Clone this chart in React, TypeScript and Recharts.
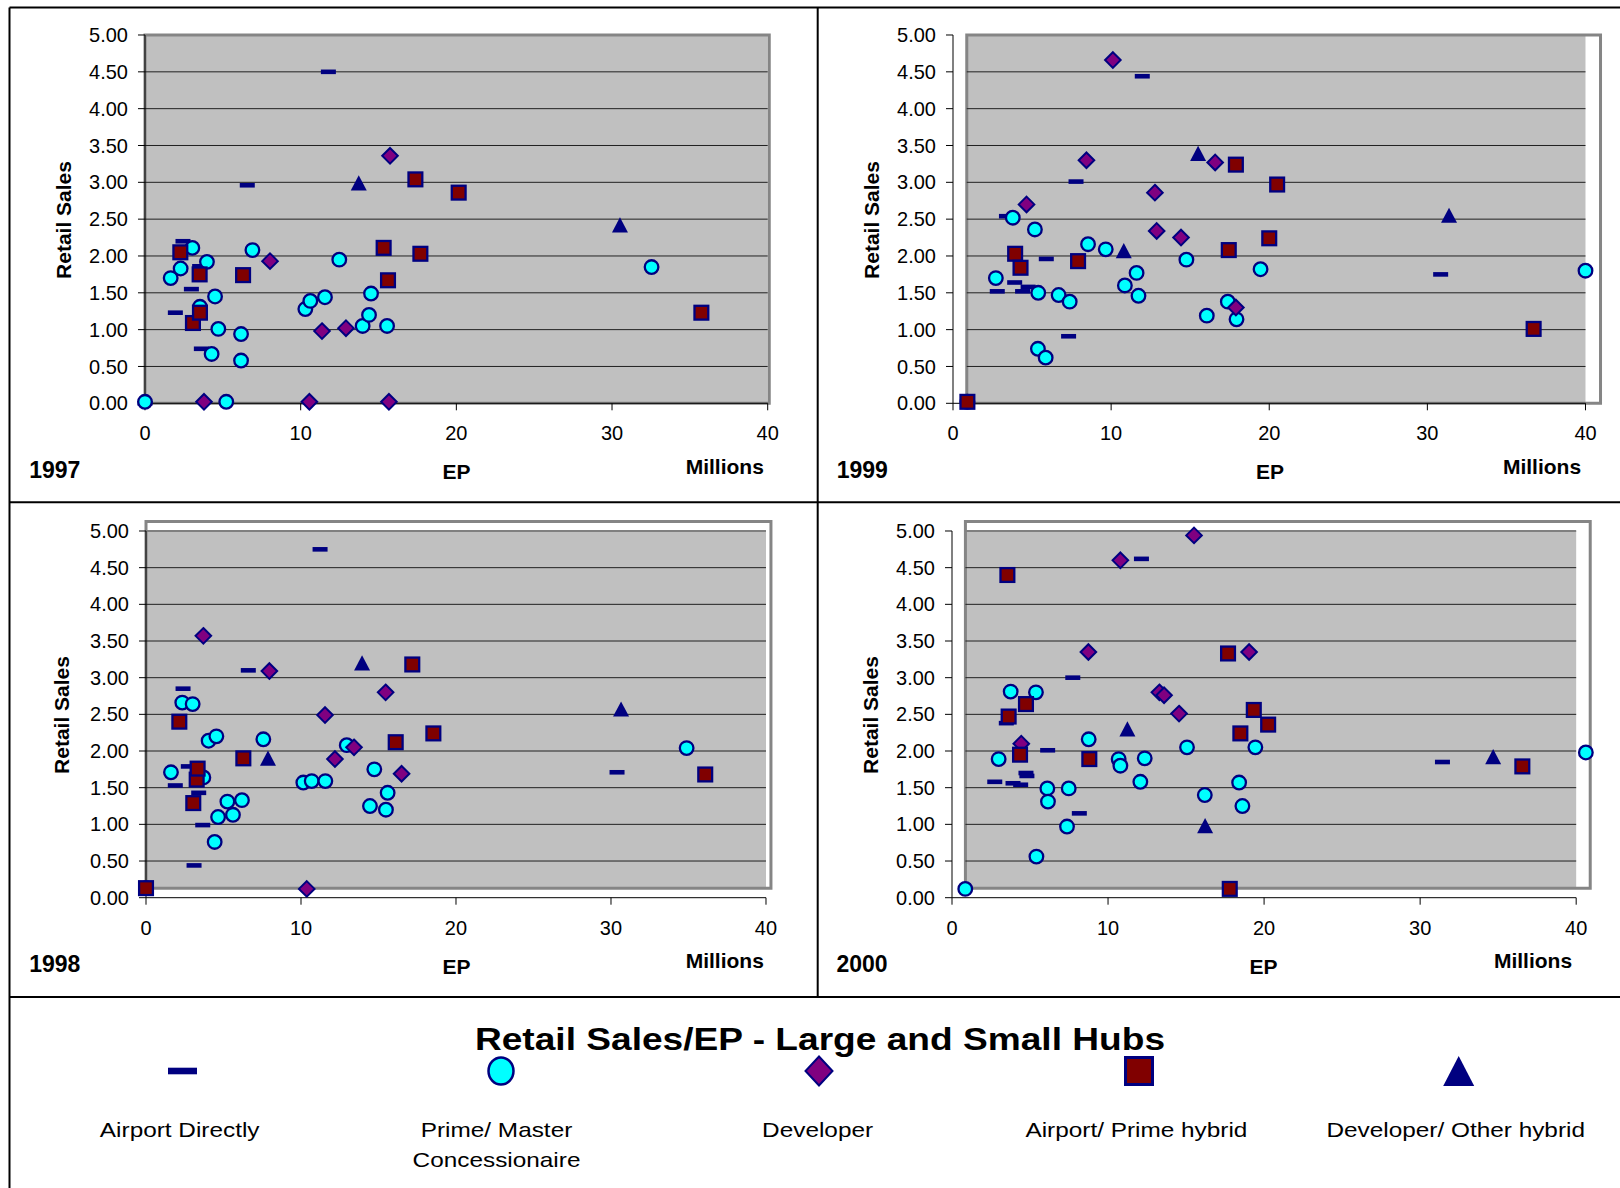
import React from 'react'
import { ScatterChart, Scatter, XAxis, YAxis, ReferenceArea, ReferenceLine } from 'recharts'

const FONT = '"Liberation Sans", Arial, Helvetica, sans-serif'
const NAVY = '#000080'

const seriesNames = ['Airport Directly', 'Prime/ Master Concessionaire', 'Developer', 'Airport/ Prime hybrid', 'Developer/ Other hybrid']
const xTicks = [0, 10, 20, 30, 40]
const yTicks = [0, 0.5, 1, 1.5, 2, 2.5, 3, 3.5, 4, 4.5, 5]
const gridValues = [0.5, 1, 1.5, 2, 2.5, 3, 3.5, 4, 4.5]
const X_MAX = 41.5

// 1997  [EP millions, retail sales]
const airport1997 = [[0, 0], [1.95, 1.23], [2.44, 2.2], [2.98, 1.55], [3.51, 1.86], [3.62, 0.74], [6.57, 2.96], [11.78, 4.5]]
const prime1997 = [[0, 0.02], [1.65, 1.7], [2.29, 1.83], [3.04, 2.11], [3.53, 1.31], [3.98, 1.92], [4.28, 0.67], [4.5, 1.45], [4.71, 1.01], [5.22, 0.02], [6.17, 0.94], [6.17, 0.58], [6.9, 2.08], [10.3, 1.28], [10.62, 1.39], [11.56, 1.44], [12.48, 1.95], [13.98, 1.05], [14.39, 1.2], [14.52, 1.49], [15.55, 1.05], [32.54, 1.85]]
const developer1997 = [[3.79, 0.02], [8.03, 1.93], [10.56, 0.02], [11.37, 0.98], [12.91, 1.02], [15.67, 0.02], [15.74, 3.36]]
const hybrid1997 = [[2.27, 2.05], [3.08, 1.09], [3.51, 1.75], [3.53, 1.23], [6.3, 1.74], [15.33, 2.11], [15.61, 1.67], [17.37, 3.04], [17.69, 2.03], [20.15, 2.86], [35.74, 1.23]]
const other1997 = [[13.73, 2.99], [30.51, 2.42]]

// 1999
const airport1999 = [[2.8, 1.52], [3.38, 2.54], [3.9, 1.64], [4.4, 1.52], [4.75, 1.58], [5.9, 1.96], [7.31, 0.91], [7.78, 3.01], [11.97, 4.44], [30.84, 1.75]]
const prime1999 = [[0.91, 0.02], [2.71, 1.7], [3.78, 2.52], [5.18, 2.36], [5.39, 1.5], [5.37, 0.74], [5.86, 0.62], [6.68, 1.47], [7.38, 1.38], [8.54, 2.16], [9.66, 2.09], [10.87, 1.6], [11.61, 1.77], [11.73, 1.46], [14.76, 1.95], [16.05, 1.19], [17.38, 1.38], [17.93, 1.14], [19.45, 1.82], [40.0, 1.8]]
const developer1999 = [[4.65, 2.7], [8.44, 3.3], [10.11, 4.66], [12.77, 2.86], [12.88, 2.34], [14.42, 2.25], [16.58, 3.27], [17.89, 1.3]]
const hybrid1999 = [[0.91, 0.02], [3.93, 2.03], [4.27, 1.84], [7.91, 1.93], [17.44, 2.08], [17.89, 3.24], [20.0, 2.24], [20.5, 2.97], [36.72, 1.01]]
const other1999 = [[10.8, 2.07], [15.5, 3.39], [31.37, 2.55]]

// 1998
const airport1998 = [[0, 0.13], [1.89, 1.53], [2.39, 2.85], [2.73, 1.79], [3.1, 0.44], [3.4, 1.43], [3.66, 0.99], [6.6, 3.1], [11.23, 4.75], [30.39, 1.71]]
const prime1998 = [[0, 0.13], [1.61, 1.71], [2.34, 2.66], [3.01, 2.64], [3.7, 1.64], [4.04, 2.14], [4.43, 0.76], [4.54, 2.2], [4.65, 1.1], [5.25, 1.31], [5.61, 1.13], [6.19, 1.33], [7.57, 2.16], [10.15, 1.57], [10.69, 1.59], [11.57, 1.59], [12.95, 2.08], [14.45, 1.25], [14.73, 1.75], [15.48, 1.2], [15.59, 1.43], [34.88, 2.04]]
const developer1998 = [[3.7, 3.57], [7.96, 3.09], [10.37, 0.12], [11.55, 2.49], [12.19, 1.89], [13.42, 2.05], [15.46, 2.8], [16.49, 1.69]]
const hybrid1998 = [[0, 0.13], [2.15, 2.4], [3.05, 1.29], [3.27, 1.61], [3.33, 1.76], [6.28, 1.9], [16.11, 2.12], [17.18, 3.18], [18.54, 2.24], [36.08, 1.68]]
const other1998 = [[7.87, 1.9], [13.94, 3.2], [30.65, 2.57]]

// 2000
const airport2000 = [[2.74, 1.58], [3.48, 2.38], [3.91, 1.56], [4.4, 1.54], [4.74, 1.7], [4.8, 1.66], [6.13, 2.01], [7.74, 3.0], [8.16, 1.15], [12.14, 4.62], [31.43, 1.85]]
const prime2000 = [[0.85, 0.12], [2.99, 1.89], [3.76, 2.81], [5.38, 2.8], [5.41, 0.56], [6.11, 1.49], [6.15, 1.31], [7.37, 0.97], [7.48, 1.49], [8.76, 2.16], [10.68, 1.89], [10.79, 1.8], [12.07, 1.58], [12.35, 1.9], [15.06, 2.05], [16.2, 1.4], [18.4, 1.57], [18.61, 1.25], [19.44, 2.05], [40.62, 1.98]]
const developer2000 = [[4.44, 2.1], [8.74, 3.35], [10.79, 4.6], [13.29, 2.8], [13.59, 2.76], [14.55, 2.51], [15.51, 4.94], [19.04, 3.35]]
const hybrid2000 = [[3.55, 4.4], [3.63, 2.47], [4.36, 1.95], [4.74, 2.64], [8.8, 1.89], [17.69, 3.33], [17.8, 0.12], [18.48, 2.24], [19.34, 2.56], [20.26, 2.36], [36.55, 1.79]]
const other2000 = [[11.24, 2.3], [16.22, 0.98], [34.68, 1.92]]

const toPts = (a: number[][]) => a.map(([x, y]) => ({ x, y }))

// markers
const DashMark = ({ cx, cy }: any) => <rect x={cx - 7.5} y={cy - 2.3} width={15} height={4.6} fill={NAVY} />
const CircleMark = ({ cx, cy }: any) => <circle cx={cx} cy={cy} r={6.8} fill="#00ffff" stroke={NAVY} strokeWidth={2.3} />
const DiamondMark = ({ cx, cy }: any) => (
  <polygon points={`${cx},${cy - 7.8} ${cx + 7.8},${cy} ${cx},${cy + 7.8} ${cx - 7.8},${cy}`} fill="#800080" stroke={NAVY} strokeWidth={2} />
)
const SquareMark = ({ cx, cy }: any) => <rect x={cx - 6.9} y={cy - 6.9} width={13.8} height={13.8} fill="#800000" stroke={NAVY} strokeWidth={2.3} />
const TriangleMark = ({ cx, cy }: any) => (
  <polygon points={`${cx},${cy - 7.8} ${cx + 8},${cy + 7.4} ${cx - 8},${cy + 7.4}`} fill={NAVY} />
)
const marks = [DashMark, CircleMark, DiamondMark, SquareMark, TriangleMark]

const panels = [
  {
    year: '1997', data: [airport1997, prime1997, developer1997, hybrid1997, other1997],
    x0: 145.3, x40: 768, yTop: 35, yBot: 403.3, gray: [0, 0], frame: [0, 40.1, 0, 5],
    sales: [63, 220], yearPos: [54.8, 478.3], ep: [456.6, 478.5], millions: [724.8, 473.5],
  },
  {
    year: '1999', data: [airport1999, prime1999, developer1999, hybrid1999, other1999],
    x0: 953, x40: 1585.5, yTop: 35, yBot: 403.3, gray: [0.87, 0], frame: [0.87, 40.95, 0, 5],
    sales: [871, 220], yearPos: [862.3, 478.3], ep: [1270, 478.5], millions: [1542, 473.5],
  },
  {
    year: '1998', data: [airport1998, prime1998, developer1998, hybrid1998, other1998],
    x0: 146, x40: 766, yTop: 531, yBot: 897.7, gray: [0, 0.13], frame: [0, 40.32, 0.13, 5.13],
    sales: [61, 715], yearPos: [54.8, 972.3], ep: [456.6, 973.5], millions: [724.8, 967.5],
  },
  {
    year: '2000', data: [airport2000, prime2000, developer2000, hybrid2000, other2000],
    x0: 952.3, x40: 1576.5, yTop: 531, yBot: 897.7, gray: [0.86, 0.13], frame: [0.86, 40.9, 0.13, 5.13],
    sales: [870, 715], yearPos: [862, 972.3], ep: [1263.6, 973.5], millions: [1533, 967.5],
  },
]

const tickStyle = { fill: '#000', fontSize: 20, fontFamily: FONT }

function Panel({ p }: any) {
  const YW = 100
  const MT = 20
  const XH = 60
  const MR = 5
  const W = ((p.x40 - p.x0) * X_MAX) / 40
  const H = p.yBot - p.yTop
  const [gx, gy] = p.gray
  const [fx1, fx2, fy1, fy2] = p.frame
  return (
    <div style={{ position: 'absolute', left: p.x0 - YW, top: p.yTop - MT }}>
      <ScatterChart width={YW + W + MR} height={MT + H + XH} margin={{ top: MT, right: MR, bottom: 0, left: 0 }}>
        <ReferenceArea x1={gx} x2={40} y1={gy} y2={5} fill="#c0c0c0" fillOpacity={1} stroke="none" ifOverflow="visible" />
        {gridValues.map((v) => (
          <ReferenceLine key={v} segment={[{ x: gx, y: v }, { x: 40, y: v }]} stroke="#202020" strokeWidth={1} ifOverflow="visible" />
        ))}
        {gy > 0 && <ReferenceLine segment={[{ x: gx, y: 5 }, { x: 40, y: 5 }]} stroke="#808080" strokeWidth={2} ifOverflow="visible" />}
        <ReferenceArea x1={fx1} x2={fx2} y1={fy1} y2={fy2} fill="none" stroke="#858585" strokeWidth={3} ifOverflow="visible" />
        <XAxis
          type="number" dataKey="x" domain={[0, X_MAX]} ticks={xTicks} interval={0} height={XH}
          axisLine={false} tickLine={{ stroke: '#000' }} tickSize={7} tickMargin={16} tick={tickStyle}
        />
        <YAxis
          type="number" dataKey="y" domain={[0, 5]} ticks={yTicks} interval={0} width={YW}
          axisLine={{ stroke: '#000' }} tickLine={{ stroke: '#000' }} tickSize={7} tickMargin={10} tick={tickStyle}
          tickFormatter={(v: number) => v.toFixed(2)}
        />
        <ReferenceLine segment={[{ x: 0, y: 0 }, { x: 40, y: 0 }]} stroke="#000" strokeWidth={1} ifOverflow="visible" />
        {p.data.map((d: number[][], i: number) => (
          <Scatter key={seriesNames[i]} name={seriesNames[i]} data={toPts(d)} shape={marks[i]} isAnimationActive={false} />
        ))}
      </ScatterChart>
    </div>
  )
}

const legendItems = [
  { lines: ['Airport Directly'], cx: 182.5, tx: 179.7 },
  { lines: ['Prime/ Master', 'Concessionaire'], cx: 501, tx: 496.5 },
  { lines: ['Developer'], cx: 819, tx: 817.6 },
  { lines: ['Airport/ Prime hybrid'], cx: 1139, tx: 1136.4 },
  { lines: ['Developer/ Other hybrid'], cx: 1458.7, tx: 1455.7 },
]

function LegendMark({ i, cx, cy }: { i: number; cx: number; cy: number }) {
  if (i === 0) return <rect x={cx - 14.5} y={cy - 3.3} width={29} height={6.6} fill={NAVY} />
  if (i === 1) return <ellipse cx={cx} cy={cy} rx={12.5} ry={13.5} fill="#00ffff" stroke={NAVY} strokeWidth={2.5} />
  if (i === 2) return <polygon points={`${cx},${cy - 14.5} ${cx + 13.5},${cy} ${cx},${cy + 14.5} ${cx - 13.5},${cy}`} fill="#800080" stroke={NAVY} strokeWidth={2} />
  if (i === 3) return <rect x={cx - 13.5} y={cy - 13.5} width={27} height={27} fill="#800000" stroke={NAVY} strokeWidth={3} />
  return <polygon points={`${cx},${cy - 15} ${cx + 15.5},${cy + 15} ${cx - 15.5},${cy + 15}`} fill={NAVY} />
}

function Backdrop() {
  const bold = { fontFamily: FONT, fontWeight: 700, fill: '#000' }
  return (
    <svg width={1620} height={1188} style={{ position: 'absolute', left: 0, top: 0 }}>
      <g stroke="#000" strokeWidth={2}>
        <line x1={9.5} y1={7.5} x2={9.5} y2={1188} />
        <line x1={9.5} y1={7.5} x2={1620} y2={7.5} />
        <line x1={817.7} y1={7.5} x2={817.7} y2={997} />
        <line x1={9.5} y1={502.3} x2={1620} y2={502.3} />
        <line x1={9.5} y1={997} x2={1620} y2={997} />
      </g>
      {panels.map((p) => (
        <g key={p.year}>
          <text transform={`translate(${p.sales[0]},${p.sales[1]}) rotate(-90)`} dy="0.36em" textAnchor="middle" fontSize={21} {...bold}>
            Retail Sales
          </text>
          <text x={p.yearPos[0]} y={p.yearPos[1]} textAnchor="middle" fontSize={23} {...bold}>{p.year}</text>
          <text x={p.ep[0]} y={p.ep[1]} textAnchor="middle" fontSize={21} {...bold}>EP</text>
          <text x={p.millions[0]} y={p.millions[1]} textAnchor="middle" fontSize={21} {...bold}>Millions</text>
        </g>
      ))}
      <text transform="translate(820,1050) scale(1.16,1)" textAnchor="middle" fontSize={32} {...bold}>
        Retail Sales/EP - Large and Small Hubs
      </text>
      {legendItems.map((it, i) => (
        <g key={i}>
          <LegendMark i={i} cx={it.cx} cy={1071} />
          {it.lines.map((ln, j) => (
            <text key={j} transform={`translate(${it.tx},${1136.5 + j * 30.5}) scale(1.16,1)`} textAnchor="middle" fontSize={21} fontFamily={FONT} fill="#000">
              {ln}
            </text>
          ))}
        </g>
      ))}
    </svg>
  )
}

export default function App() {
  return (
    <div style={{ position: 'relative', width: 1620, height: 1188, overflow: 'hidden', background: '#fff' }}>
      <style>{'body{margin:0}'}</style>
      <Backdrop />
      {panels.map((p) => (
        <Panel key={p.year} p={p} />
      ))}
    </div>
  )
}
